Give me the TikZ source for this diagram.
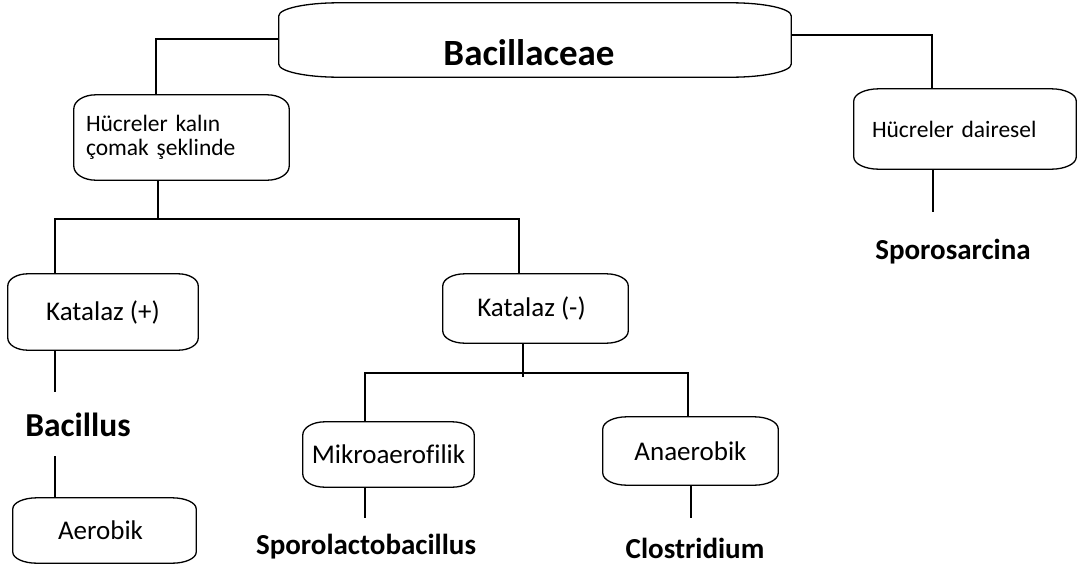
\documentclass[tikz,border=0pt]{standalone}
\usepackage{fontspec}
\setmainfont{Carlito}[Ligatures=CommonOff]
\newcommand{\ebox}[3]{%
  \draw[boxline] ([xshift=#2]#1.north west) -- ([xshift=-#2]#1.north east)
    arc[start angle=90,end angle=0,x radius=#2,y radius=#3]
    -- ([yshift=#3]#1.south east)
    arc[start angle=0,end angle=-90,x radius=#2,y radius=#3]
    -- ([xshift=#2]#1.south west)
    arc[start angle=270,end angle=180,x radius=#2,y radius=#3]
    -- ([yshift=-#3]#1.north west)
    arc[start angle=180,end angle=90,x radius=#2,y radius=#3] -- cycle;}
\begin{document}
\begin{tikzpicture}[x=1pt,y=-1pt,
  box/.style={draw=none, inner sep=0pt, font=\fontsize{27}{32}\selectfont},
  smalltext/.style={font=\fontsize{23.5}{24}\selectfont, align=left},
  taxon/.style={inner sep=0pt, font=\fontsize{29}{34}\selectfont\bfseries},
  conn/.style={line width=1.3pt, black},
  boxline/.style={line width=1.3pt, black, line join=round}]
\useasboundingbox (0,0) rectangle (1079,568);
\fill[white] (0,0) rectangle (1079,568);

% boxes
\node[box, minimum width=512pt, minimum height=74pt,
      font=\fontsize{37}{44}\selectfont\bfseries,
      text height=62pt, text depth=12pt] (bac) at (535,40) {Bacillaceae\kern12pt};
\node[box, smalltext, text width=191pt, inner xsep=12pt, minimum height=85pt] (hk) at (181.5,137.5)
  {Hücreler kalın\\çomak şeklinde};
\node[box, smalltext, text width=186pt, inner xsep=18pt, minimum height=80pt] (hd) at (965,129)
  {Hücreler dairesel};
\node[box, minimum width=190pt, minimum height=76pt] (kp) at (103,312) {Katalaz (+)};
\node[box, minimum width=185pt, minimum height=69pt] (km) at (535.5,308.5) {Katalaz (-)\kern8pt};
\node[box, minimum width=171pt, minimum height=65pt] (mik) at (388.5,454.5) {Mikroaerofilik};
\node[box, minimum width=175pt, minimum height=68pt] (ana) at (690.5,451) {Anaerobik};
\node[box, minimum width=183pt, minimum height=65pt] (aer) at (104.5,530.5) {Aerobik\kern8pt};

\ebox{bac}{60pt}{13pt}
\ebox{hk}{22pt}{14pt}
\ebox{hd}{25pt}{12pt}
\ebox{kp}{20pt}{12pt}
\ebox{km}{22pt}{12pt}
\ebox{mik}{22pt}{13pt}
\ebox{ana}{24pt}{12pt}
\ebox{aer}{24pt}{11pt}

% taxa
\node[taxon, font=\fontsize{33.5}{38}\selectfont\bfseries] (bacillus) at (78,425) {Bacillus};
\node[taxon] (sporos) at (953,252) {Sporosarcina};
\node[taxon] (sporol) at (366,547) {Sporolactobacillus};
\node[taxon] (clos) at (695,548) {Clostridium};

% junction coordinates
\coordinate (j1) at (156,39);
\coordinate (j2) at (932,35);
\coordinate (j3) at (158,219);
\coordinate (j3l) at (55,219);
\coordinate (j3r) at (519,219);
\coordinate (j4) at (523,373);
\coordinate (j4l) at (365,373);
\coordinate (j4r) at (688,373);
\coordinate (b1) at (55,392);
\coordinate (b2) at (55,456);
\coordinate (s1) at (365,518);
\coordinate (c1) at (691,518);
\coordinate (p1) at (933,212);

% connectors
\draw[conn] (bac.west |- j1) -- (j1) -- (j1 |- hk.north);
\draw[conn] (bac.east |- j2) -- (j2) -- (j2 |- hd.north);
\draw[conn] (hk.south -| j3) -- (j3);
\draw[conn] (j3l |- kp.north) -- (j3l) -- (j3r) -- (j3r |- km.north);
\draw[conn] (kp.south -| b1) -- (b1);
\draw[conn] (b2) -- (b2 |- aer.north);
\draw[conn] (km.south -| j4) -- ([yshift=-4pt]j4);
\draw[conn] (j4l |- mik.north) -- (j4l) -- (j4r) -- (j4r |- ana.north);
\draw[conn] (mik.south -| s1) -- (s1);
\draw[conn] (ana.south -| c1) -- (c1);
\draw[conn] (hd.south -| p1) -- (p1);
\end{tikzpicture}
\end{document}
